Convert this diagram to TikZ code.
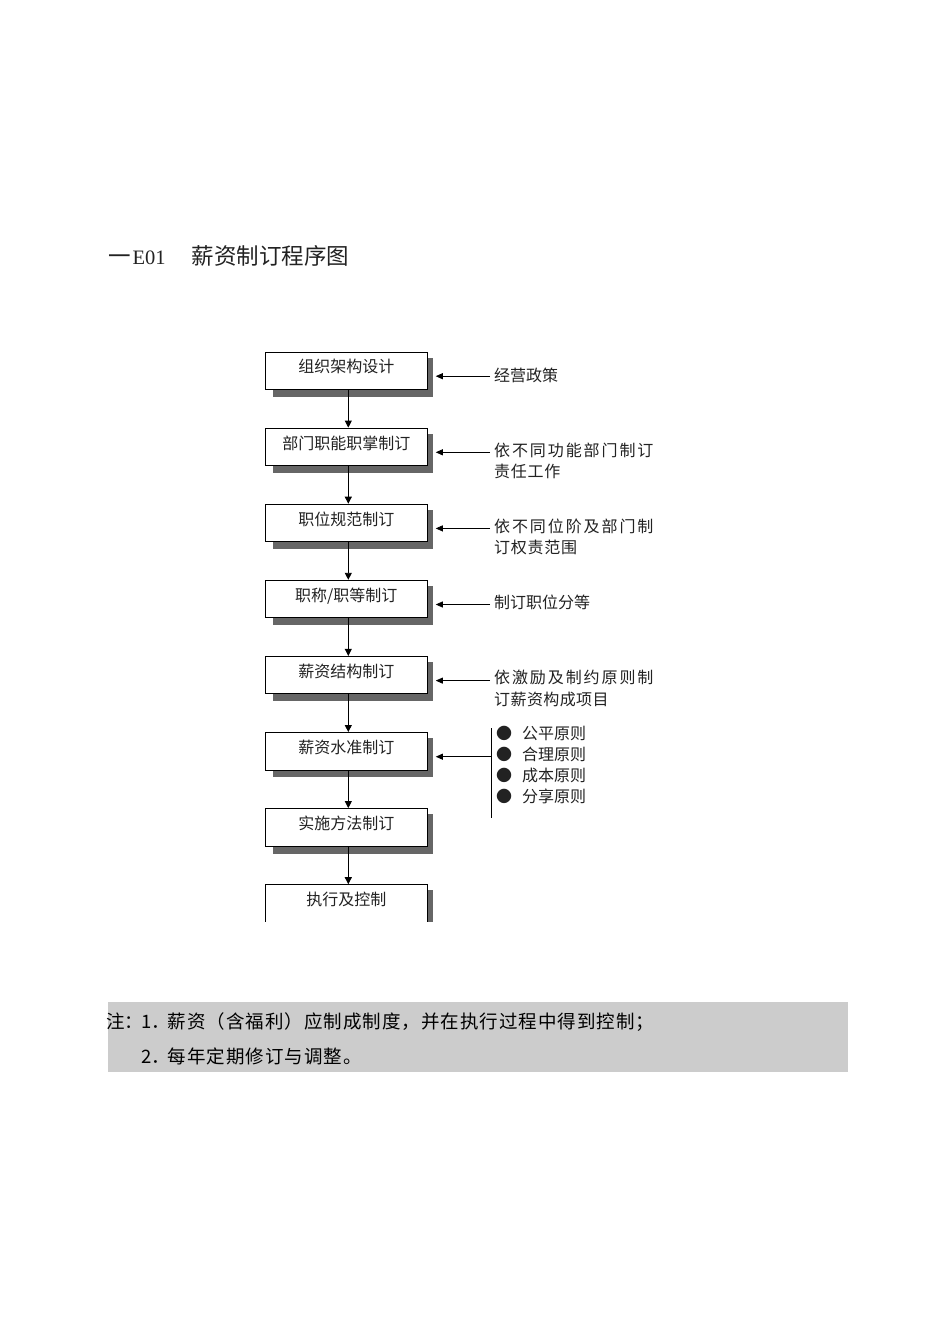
\documentclass[tikz,border=0pt]{standalone}
\usepackage{fontspec}
\newfontfamily\cjk{Noto Sans CJK SC}
\newfontfamily\serifen{Liberation Serif}
\usetikzlibrary{arrows.meta}
\definecolor{shadowc}{HTML}{666666}
\definecolor{bandc}{HTML}{CCCCCC}
\definecolor{ink}{HTML}{222222}
\pgfdeclarelayer{bg}
\pgfsetlayers{bg,main}
\makeatletter
\def\lsp@end{}
\def\lsp#1#2{\def\lsp@k{#1}\lsp@loop#2\lsp@end}
\def\lsp@loop#1{\ifx#1\lsp@end\else#1\kern\lsp@k\relax\expandafter\lsp@loop\fi}
\makeatother
\begin{document}
\begin{tikzpicture}[x=1pt,y=-1pt,
  every node/.style={font=\cjk, text=ink, inner sep=0pt},
  stepbox/.style={draw=black, line width=0.9pt, fill=white, minimum width=162pt, minimum height=37.5pt, text height=10pt, text depth=5.6pt, font=\cjk\fontsize{16}{20}\selectfont},
  sidetxt/.style={anchor=base west},
  dnarr/.style={draw, line width=0.9pt, -{Triangle[length=7pt,width=7pt]}},
  sidearr/.style={draw, line width=0.7pt, -{Triangle[length=7pt,width=6pt]}}]
\useasboundingbox (0,0) rectangle (950,1344);
\begin{pgfonlayer}{bg}
\fill[white] (0,0) rectangle (950,1344);
\end{pgfonlayer}

% title
\node[anchor=base west, font=\cjk\fontsize{22.5}{26}\selectfont] (title) at (108,264.6)
  {一\hspace{2pt}{\serifen\fontsize{20.5}{24}\selectfont E01}\hspace{26pt}薪资制订程序图};

% boxes
\node[stepbox] (b1) at (346.3,370.7) {组织架构设计};
\node[stepbox] (b2) at (346.3,446.8) {部门职能职掌制订};
\node[stepbox] (b3) at (346.3,522.9) {职位规范制订};
\node[stepbox] (b4) at (346.3,599.0) {职称/职等制订};
\node[stepbox] (b5) at (346.3,675.1) {薪资结构制订};
\node[stepbox] (b6) at (346.3,751.2) {薪资水准制订};
\node[stepbox] (b7) at (346.3,827.3) {实施方法制订};
\begin{scope}
\clip (0,0) rectangle (950,921);
\node[stepbox] (b8) at (346.3,903.4) {执行及控制};
\end{scope}

\begin{pgfonlayer}{bg}
\foreach \n in {b1,b2,b3,b4,b5,b6,b7}{
  \fill[shadowc] ([shift={(8pt,-7pt)}]\n.south west) rectangle ([shift={(5pt,-6pt)}]\n.north east);
}
\begin{scope}
\clip (0,0) rectangle (950,921);
\fill[shadowc] ([shift={(8pt,-7pt)}]b8.south west) rectangle ([shift={(5pt,-6pt)}]b8.north east);
\end{scope}
\end{pgfonlayer}

% down arrows
\foreach \a/\b in {b1/b2,b2/b3,b3/b4,b4/b5,b5/b6,b6/b7,b7/b8}{
  \draw[dnarr] ([xshift=2pt]\a.south) -- ([xshift=2pt]\b.north);
}

% side texts
\node[sidetxt, font=\cjk\fontsize{16}{21}\selectfont] (t1) at (494,381.9) {经营政策};
\node[sidetxt, font=\cjk\fontsize{16}{20.5}\selectfont] (t2) at (494,456.9)
  {\begin{tabular}[t]{@{}l@{}}\lsp{1.9pt}{依不同功能部门制订}\\\lsp{0.7pt}{责任工作}\end{tabular}};
\node[sidetxt, font=\cjk\fontsize{16}{21.5}\selectfont] (t3) at (494,532.4)
  {\begin{tabular}[t]{@{}l@{}}\lsp{1.9pt}{依不同位阶及部门制}\\\lsp{0.7pt}{订权责范围}\end{tabular}};
\node[sidetxt, font=\cjk\fontsize{16}{21}\selectfont] (t4) at (494,608.9) {制订职位分等};
\node[sidetxt, font=\cjk\fontsize{16}{22}\selectfont] (t5) at (494,683.9)
  {\begin{tabular}[t]{@{}l@{}}\lsp{1.9pt}{依激励及制约原则制}\\\lsp{0.4pt}{订薪资构成项目}\end{tabular}};
\node[sidetxt, font=\cjk\fontsize{16}{21}\selectfont] (bl) at (496,739.9)
  {\begin{tabular}[t]{@{}l@{}}●\hspace{10pt}公平原则\\●\hspace{10pt}合理原则\\●\hspace{10pt}成本原则\\●\hspace{10pt}分享原则\end{tabular}};

% bullet bar
\coordinate (vt) at (491,728);
\coordinate (vb) at (491,818);
\draw[line width=0.9pt] (vt) -- (vb);

% side arrows
\coordinate (s1) at (490,376.2);
\coordinate (s2) at (490,452.3);
\coordinate (s3) at (490,528.4);
\coordinate (s4) at (490,604.5);
\coordinate (s5) at (490,680.6);
\coordinate (s6) at (491,756.7);
\foreach \i in {1,...,6}{
  \coordinate (e\i) at ([xshift=8pt]b\i.east);
  \draw[sidearr] (s\i) -- (s\i -| e\i);
}

% note band
\fill[bandc] (108,1002) rectangle (848,1072);
\node[anchor=base west, font=\cjk\fontsize{18.5}{35.5}\selectfont, text=black] (note) at (106,1028)
  {\begin{tabular}[t]{@{}l@{}}\makebox[35.5pt][l]{注：}\makebox[26pt][l]{1．}\lsp{1pt}{薪资（含福利）应制成制度，并在执行过程中得到控制；}\\\hspace{35.5pt}\makebox[26pt][l]{2．}\lsp{1pt}{每年定期修订与调整。}\end{tabular}};
\end{tikzpicture}
\end{document}
